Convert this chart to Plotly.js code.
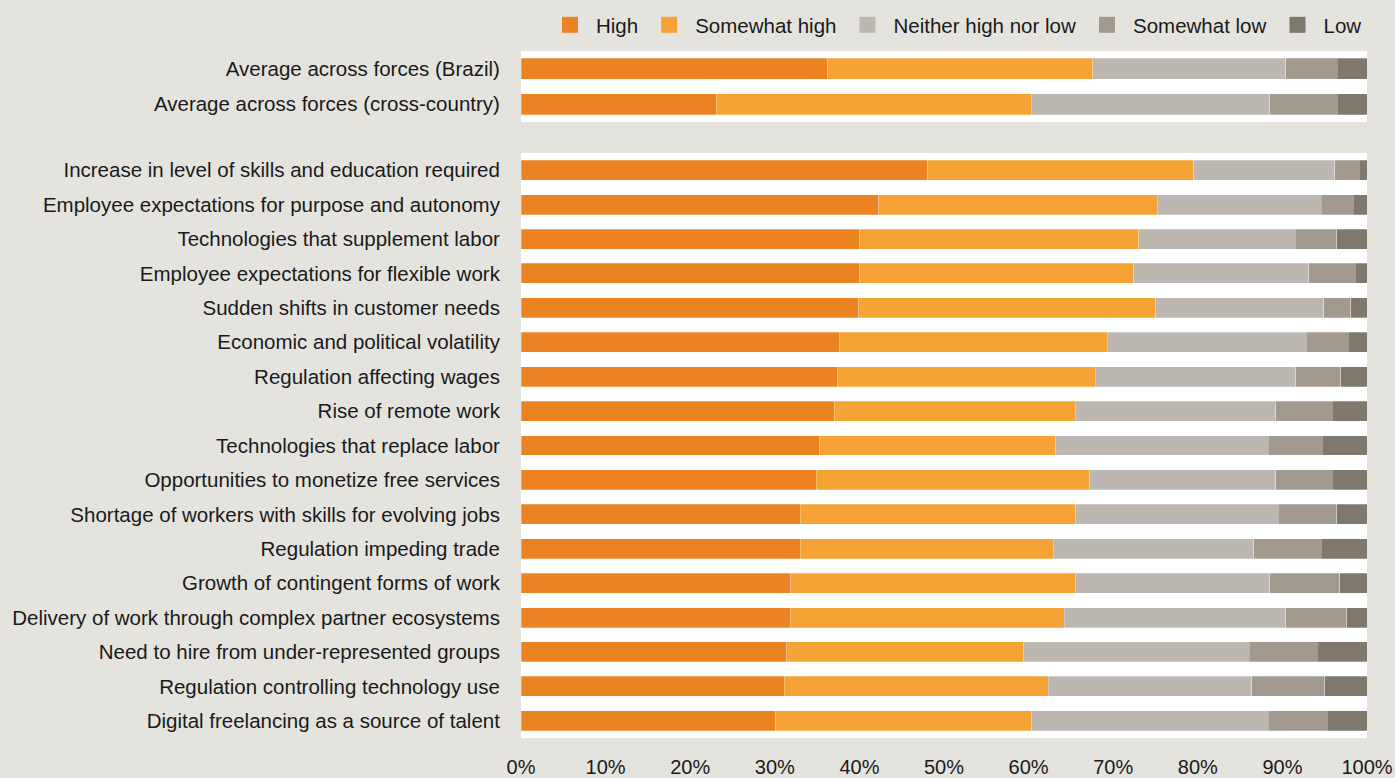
<!DOCTYPE html>
<html>
<head>
<meta charset="utf-8">
<script src="https://cdn.plot.ly/plotly-3.0.1.min.js"></script>
<style>
html,body{margin:0;padding:0;background:#e4e3de;}
#chart{width:1395px;height:778px;}
</style>
</head>
<body>
<div id="chart"></div>
<script>
// ---- Data ----
var seriesNames = ["High", "Somewhat high", "Neither high nor low", "Somewhat low", "Low"];

var topCategories = [
  "Average across forces (Brazil)",
  "Average across forces (cross-country)"
];
var topHigh         = [36.2, 23.1];
var topSomewhatHigh = [31.4, 37.2];
var topNeither      = [22.8, 28.2];
var topSomewhatLow  = [6.1, 8.0];
var topLow          = [3.5, 3.5];

var categories = [
  "Increase in level of skills and education required",
  "Employee expectations for purpose and autonomy",
  "Technologies that supplement labor",
  "Employee expectations for flexible work",
  "Sudden shifts in customer needs",
  "Economic and political volatility",
  "Regulation affecting wages",
  "Rise of remote work",
  "Technologies that replace labor",
  "Opportunities to monetize free services",
  "Shortage of workers with skills for evolving jobs",
  "Regulation impeding trade",
  "Growth of contingent forms of work",
  "Delivery of work through complex partner ecosystems",
  "Need to hire from under-represented groups",
  "Regulation controlling technology use",
  "Digital freelancing as a source of talent"
];
var high         = [48.1, 42.3, 40.0, 40.0, 39.9, 37.6, 37.4, 37.0, 35.3, 34.9, 33.0, 33.0, 31.9, 31.8, 31.4, 31.1, 30.1];
var somewhatHigh = [31.4, 32.9, 33.0, 32.4, 35.1, 31.7, 30.5, 28.5, 27.9, 32.3, 32.6, 29.9, 33.7, 32.4, 28.0, 31.2, 30.3];
var neither      = [16.7, 19.4, 18.5, 20.7, 19.9, 23.5, 23.7, 23.7, 25.1, 22.0, 23.9, 23.7, 22.9, 26.2, 26.7, 24.1, 27.9];
var somewhatLow  = [2.9, 3.8, 4.9, 5.5, 3.2, 5.0, 5.3, 6.7, 6.4, 6.7, 6.9, 8.0, 8.3, 7.2, 8.0, 8.6, 7.0];
var low          = [0.9, 1.6, 3.6, 1.4, 1.9, 2.2, 3.1, 4.1, 5.3, 4.1, 3.6, 5.4, 3.2, 2.4, 5.9, 5.0, 4.7];

var xTickVals  = [0, 10, 20, 30, 40, 50, 60, 70, 80, 90, 100];
var xTickTexts = ["0%", "10%", "20%", "30%", "40%", "50%", "60%", "70%", "80%", "90%", "100%"];

// ---- Styling ----
var colors = ["#eb8323", "#f5a334", "#bcb7b0", "#a29a8f", "#7f786c"];
var fontFamily = "'Liberation Sans', Arial, sans-serif";

var bottomSeries = [high, somewhatHigh, neither, somewhatLow, low];
var topSeries = [topHigh, topSomewhatHigh, topNeither, topSomewhatLow, topLow];

var traces = [];
for (var i = 0; i < seriesNames.length; i++) {
  traces.push({
    type: "bar", orientation: "h",
    name: seriesNames[i], legendgroup: seriesNames[i], showlegend: false,
    x: bottomSeries[i], y: categories,
    xaxis: "x", yaxis: "y",
    marker: {color: colors[i], line: {color: "rgba(255,255,255,0.45)", width: 0.6}},
    hoverinfo: "x+y+name"
  });
  traces.push({
    type: "bar", orientation: "h",
    name: seriesNames[i], legendgroup: seriesNames[i], showlegend: false,
    x: topSeries[i], y: topCategories,
    xaxis: "x", yaxis: "y2",
    marker: {color: colors[i], line: {color: "rgba(255,255,255,0.45)", width: 0.6}},
    hoverinfo: "x+y+name"
  });
}
// legend entries (square swatches)
for (var j = 0; j < seriesNames.length; j++) {
  traces.push({
    type: "scatter", mode: "markers",
    name: seriesNames[j], legendgroup: seriesNames[j], showlegend: true,
    x: [null], y: [null], xaxis: "x", yaxis: "y",
    marker: {symbol: "square", size: 16, color: colors[j]},
    hoverinfo: "skip"
  });
}

var H = 778, T = 51, B = 40;
var plotH = H - T - B; // 687
var layout = {
  width: 1395, height: 778,
  margin: {l: 521, r: 28, t: T, b: B, pad: 0, autoexpand: false},
  paper_bgcolor: "#e4e3de",
  plot_bgcolor: "#ffffff",
  barmode: "stack",
  bargap: 0.42,
  font: {family: fontFamily, color: "#1a1a1a", size: 20.5},
  showlegend: true,
  legend: {
    orientation: "h", x: 1.0, xanchor: "right", y: 1 + (T - 25) / plotH, yanchor: "middle",
    font: {size: 20.5, color: "#1a1a1a", family: fontFamily},
    bgcolor: "rgba(0,0,0,0)", traceorder: "normal",
    itemwidth: 42, tracegroupgap: 0
  },
  xaxis: {
    range: [0, 100], domain: [0, 1], anchor: "y",
    tickvals: xTickVals, ticktext: xTickTexts,
    showgrid: false, zeroline: false, showline: false,
    ticks: "outside", ticklen: 11, tickcolor: "rgba(0,0,0,0)",
    tickfont: {size: 20, color: "#1a1a1a"},
    fixedrange: true
  },
  yaxis: {
    domain: [0, (738 - 153) / plotH],
    type: "category", autorange: "reversed",
    showgrid: false, zeroline: false, showline: false,
    ticks: "outside", ticklen: 16, tickcolor: "rgba(0,0,0,0)",
    tickfont: {size: 20.5, color: "#1a1a1a"},
    fixedrange: true
  },
  yaxis2: {
    domain: [(738 - 122) / plotH, 1], anchor: "x",
    type: "category", autorange: "reversed",
    showgrid: false, zeroline: false, showline: false,
    ticks: "outside", ticklen: 16, tickcolor: "rgba(0,0,0,0)",
    tickfont: {size: 20.5, color: "#1a1a1a"},
    fixedrange: true
  }
};

Plotly.newPlot("chart", traces, layout, {displayModeBar: false});
</script>
</body>
</html>
